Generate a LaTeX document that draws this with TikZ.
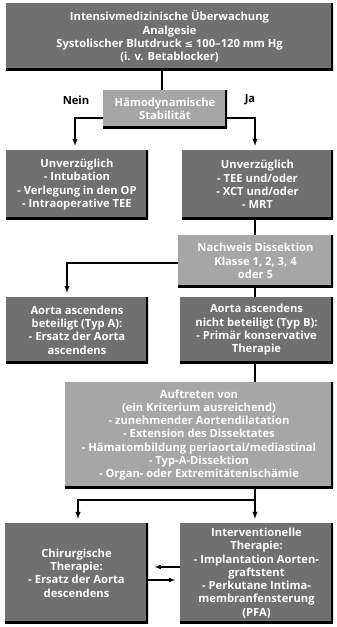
\documentclass[tikz,border=0pt]{standalone}
\usepackage{fontspec}
\setmainfont{Open Sans}
\newfontfamily\symfont{DejaVu Sans}
\usetikzlibrary{calc}

\tikzset{
  shadowedge/.style={path picture={
      \draw[line width=5pt] (path picture bounding box.north east) -- (path picture bounding box.south east);
      \draw[line width=4pt] (path picture bounding box.south east) -- (path picture bounding box.south west);}},
  darkbox/.style={shadowedge, fill=black!56, text=white, font=\bfseries\fontsize{11.2}{13.3}\selectfont,
      align=center, inner sep=0pt},
  lightbox/.style={darkbox, fill=black!35},
  arr/.style={line width=1.4pt, -latex, shorten >=4pt},
  link/.style={line width=1.4pt}
}

\begin{document}
\begin{tikzpicture}[x=1pt,y=-1pt]
            \useasboundingbox (0,0) rectangle (337,627);
            % Boxes:
            \node[darkbox, minimum width=327pt, minimum height=67pt] (watch) at (169.5,36.5)
                {Intensivmedizinische Überwachung\\Analgesie\\Systolischer Blutdruck {\symfont\fontsize{10}{13}\selectfont ≤} 100–120 mm Hg\\(i. v. Betablocker)};
            \node[lightbox, minimum width=124pt, minimum height=38pt] (haemo) at (165,109)
                {Hämodynamische\\Stabilität};
            \node[darkbox, minimum width=142pt, minimum height=69pt] (nowL) at (77,184.5)
                {Unverzüglich\\- Intubation\\- Verlegung in den OP\\- Intraoperative TEE};
            \node[darkbox, minimum width=151pt, minimum height=69pt] (nowR) at (257.5,184.5)
                {Unverzüglich\\- TEE und/oder\\- XCT und/oder\\- MRT};
            \node[lightbox, minimum width=155pt, minimum height=52pt] (proof) at (255.5,261)
                {Nachweis Dissektion\\Klasse 1, 2, 3, 4\\oder 5};
            \node[darkbox, minimum width=142pt, minimum height=66pt] (typA) at (77,330)
                {Aorta ascendens\\beteiligt (Typ A):\\- Ersatz der Aorta\\ascendens};
            \node[darkbox, minimum width=153pt, minimum height=66pt] (typB) at (256.5,330)
                {Aorta ascendens\\nicht beteiligt (Typ B):\\- Primär konservative\\Therapie};
            \node[lightbox, minimum width=268pt, minimum height=106pt] (onset) at (199,435)
                {Auftreten von\\(ein Kriterium ausreichend)\\- zunehmender Aortendilatation\\- Extension des Dissektates\\- Hämatombildung periaortal/mediastinal\\- Typ-A-Dissektion\\- Organ- oder Extremitätenischämie};
            \node[darkbox, minimum width=143pt, minimum height=100pt] (surg) at (76.5,573)
                {Chirurgische\\Therapie:\\- Ersatz der Aorta\\descendens};
            \node[darkbox, minimum width=153pt, minimum height=100pt] (interv) at (256.5,573)
                {Interventionelle\\Therapie:\\- Implantation Aorten-\\graftstent\\- Perkutane Intima-\\membranfensterung\\(PFA)};

            % Labels:
            \node[font=\bfseries\fontsize{11.2}{13}\selectfont] (no) at (76,100) {Nein};
            \node[font=\bfseries\fontsize{11.2}{13}\selectfont] (yes) at (250,100) {Ja};

            % Connectors:
            \draw[link] (haemo.north -| 162,0) -- (watch.south -| 162,0);
            \draw[arr] ([yshift=-9pt]haemo.west) -| ([xshift=-2pt]nowL.north);
            \draw[arr] ([yshift=-9pt]haemo.east) -| ([xshift=-2.5pt]nowR.north);
            \draw[link] (nowR.south -| 255,0) -- (proof.north -| 255,0);
            \draw[arr] ([yshift=-2pt]proof.west) -| ([xshift=-10pt]typA.north);
            \draw[link] (proof.south -| 255,0) -- (typB.north -| 255,0);
            \draw[link] (typB.south -| 255,0) -- (onset.north -| 255,0);
            \coordinate (split) at (255,500);
            \draw[link] (onset.south -| split) -- (split);
            \draw[arr] (split) -- (interv.north -| split);
            \draw[arr] (split) -| ([xshift=1.5pt]surg.north);
            \draw[arr, line width=1.1pt, shorten >=0pt] ([yshift=6pt]interv.west) -- ++(-25,0);
            \draw[arr, line width=1.1pt, shorten >=0pt] ([yshift=-7pt]surg.east) -- ++(27,0);
\end{tikzpicture}
\end{document}
